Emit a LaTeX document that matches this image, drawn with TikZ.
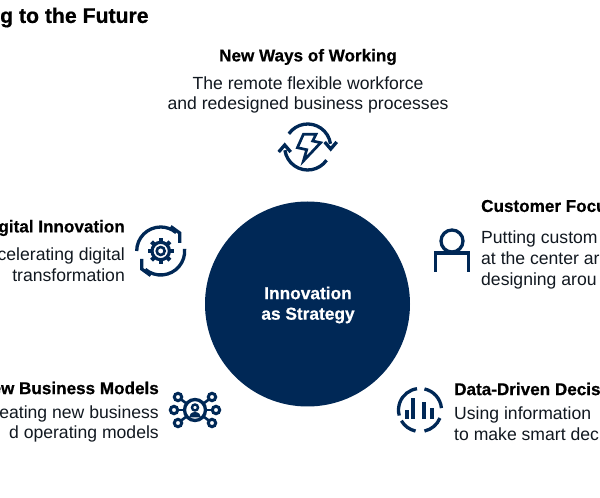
\documentclass[tikz,border=0pt]{standalone}
\usepackage{fontspec}
\setmainfont[BoldFeatures={FakeBold=0.6}]{Liberation Sans}
\definecolor{navy}{HTML}{002856}
\definecolor{ink}{HTML}{111820}
\tikzset{
  x=1pt,y=1pt,
  head/.style={font=\fontsize{17.1}{20}\selectfont\bfseries,text=black,inner sep=0pt},
  body/.style={font=\fontsize{17.6}{20.7}\selectfont,text=ink,inner sep=0pt},
  ico/.style={draw=navy,line width=3.3pt,fill=none},
  thin ico/.style={draw=navy,line width=2.7pt,fill=none},
  bar/.style={draw=navy,line width=3.8pt}
}
\begin{document}
\begin{tikzpicture}
\useasboundingbox (0,0) rectangle (600,498);
\clip (0,0) rectangle (600,498);
\fill[white] (0,0) rectangle (600,498);
\node[head,anchor=west,font=\fontsize{21.2}{24}\selectfont\bfseries] (title) at (0,480.5) {g to the Future};
\node[circle,fill=navy,minimum size=205pt,inner sep=0pt] (core) at (307.5,194) {};
\node[align=center,text=white,inner sep=0pt,font=\fontsize{17.3}{20.5}\selectfont\bfseries] (coreT) at (308,193) {Innovation\\as Strategy};
\node[head] (waysT) at (308,441) {New Ways of Working};
\node[body,align=center] (waysB) at (308,403) {The remote flexible workforce\\and redesigned business processes};
\node[head,anchor=east] (digT) at (125,270) {igital Innovation};
\node[body,anchor=east,align=right] (digB) at (125,233.5) {celerating digital\\transformation};
\node[head,anchor=west] (custT) at (481,292) {Customer Focu};
\node[body,anchor=west,align=left] (custB) at (481,238) {Putting custom\\at the center ar\\designing arou};
\node[head,anchor=east] (bizT) at (159,110) {ew Business Models};
\node[body,anchor=east,align=right] (bizB) at (159,74) {eating new business\\d operating models};
\node[head,anchor=west] (dataT) at (454,109) {Data-Driven Decis};
\node[body,anchor=west,align=left] (dataB) at (454,74) {Using information\\to make smart dec};
% bolt icon
\begin{scope}[shift={(307.7,351)}]
 \draw[ico] (145:23) arc (145:8:23);
 \draw[ico] (-35:23) arc (-35:-172:23);
 \draw[ico,line join=miter] (17,5) -- (23,-2) -- (29,5);
 \draw[ico,line join=miter] (-29,-5) -- (-23,2) -- (-17,-5);
 \draw[thin ico,line join=miter] (-4.3,12.7) -- (8.3,12.7) -- (5,6) -- (13,4.3) -- (-4.3,-14) -- (-1,-2.7) -- (-10.3,-0.7) -- cycle;
\end{scope}
% gear icon
\begin{scope}[shift={(160.7,247)}]
 \draw[ico] (180:24) arc (180:50:24);
 \draw[ico] (5:24) arc (5:-130:24);
 \draw[ico,line join=miter] (10,24.5) -- (19,18) -- (19,8);
 \draw[ico,line join=miter] (-10,-24.5) -- (-19,-18) -- (-19,-8);
 \draw[navy,line width=3.2pt] (0,0) circle (8.7);
 \draw[navy,line width=2.6pt] (0,0) circle (4);
 \foreach \a in {0,45,...,315}{\draw[navy,line width=4pt] (\a:9) -- (\a:13);}
\end{scope}
% network icon
\begin{scope}[shift={(195,88)}]
 \foreach \p in {(-17,13),(17,13),(-21,0),(21,0),(-17,-13),(17,-13)}{
   \draw[navy,line width=2.6pt] (0,0) -- \p;
 }
 \fill[white] (0,0) circle (11);
 \draw[ico] (0,0) circle (10.5);
 \draw[navy,line width=2.4pt] (0,2.5) circle (3);
 \fill[navy] (-6,-7.5) arc (180:0:6 and 5.5) -- cycle;
 \foreach \p in {(-17,13),(17,13),(-21,0),(21,0),(-17,-13),(17,-13)}{
   \draw[navy,fill=white,line width=3pt] \p circle (3.7);
 }
\end{scope}
% data icon
\begin{scope}[shift={(420,88)}]
 \draw[ico] (98:21.5) arc (98:195:21.5);
 \draw[ico] (78:21.5) arc (78:5:21.5);
 \draw[ico] (-22:21.5) arc (-22:-78:21.5);
 \draw[ico] (-102:21.5) arc (-102:-150:21.5);
 \draw[bar] (-13,-9) -- (-13,0);
 \draw[bar] (-6.7,-9) -- (-6.7,11.7);
 \draw[bar] (4.3,-9) -- (4.3,8.3);
 \draw[bar] (12.3,-9) -- (12.3,1.7);
\end{scope}
% person icon
\begin{scope}[shift={(452,257)}]
 \draw[ico] (0,0) circle (11);
 \draw[ico,line join=miter] (-16.5,-31) -- (-16.5,-12) -- (16.5,-12) -- (16.5,-31);
\end{scope}
\end{tikzpicture}
\end{document}
